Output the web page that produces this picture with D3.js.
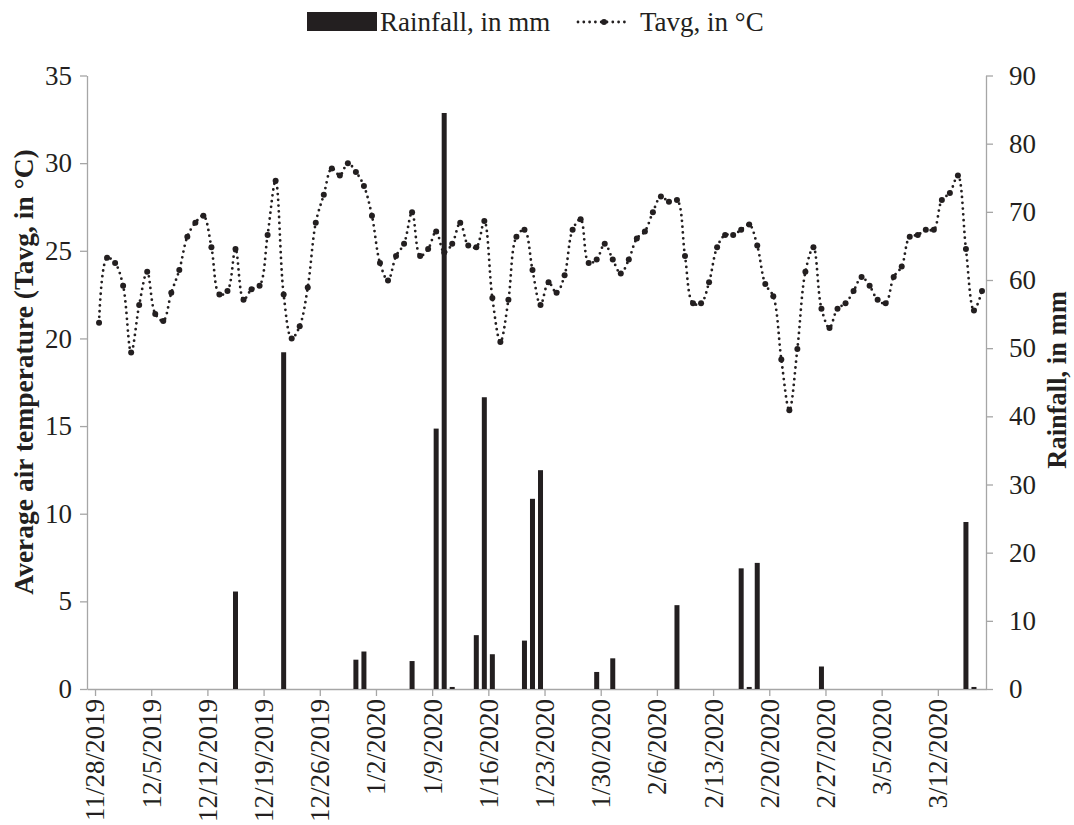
<!DOCTYPE html>
<html>
<head>
<meta charset="utf-8">
<script src="https://cdn.jsdelivr.net/npm/d3@7"></script>
<style>
  html, body { margin: 0; padding: 0; background: #fff; }
  svg { display: block; }
  text { font-family: "Liberation Serif", "Times New Roman", serif; fill: #231f20; }
</style>
</head>
<body>
<svg id="chart" width="1074" height="825"></svg>
<script>
// Daily average air temperature (°C), one value per day starting 11/28/2019
const tempStart = "2019-11-28";
const tavg = [
  20.9, 24.6, 24.3, 23.0, 19.2, 21.9, 23.8, 21.4, 21.0, 22.6,
  23.9, 25.8, 26.6, 27.0, 25.2, 22.5, 22.7, 25.1, 22.2, 22.8,
  23.0, 25.9, 29.0, 22.5, 20.0, 20.7, 22.9, 26.6, 28.2, 29.7,
  29.3, 30.0, 29.5, 28.7, 27.0, 24.3, 23.3, 24.7, 25.4, 27.2,
  24.7, 25.1, 26.1, 24.9, 25.4, 26.6, 25.3, 25.2, 26.7, 22.3,
  19.8, 22.2, 25.8, 26.2, 23.9, 21.9, 23.2, 22.6, 23.6, 26.2,
  26.8, 24.3, 24.5, 25.4, 24.5, 23.7, 24.5, 25.7, 26.1, 27.2,
  28.1, 27.8, 27.9, 24.7, 22.0, 22.0, 23.2, 25.2, 25.9, 25.9,
  26.2, 26.5, 25.3, 23.1, 22.4, 18.8, 15.9, 19.4, 23.8, 25.2,
  21.7, 20.6, 21.7, 22.0, 22.7, 23.5, 23.0, 22.2, 22.0, 23.5,
  24.1, 25.8, 25.9, 26.2, 26.2, 27.9, 28.3, 29.3, 25.1, 21.6,
  22.7
];

// Days with rainfall (mm)
const rainDates = [
  "2019-12-15", "2019-12-21", "2019-12-30", "2019-12-31", "2020-01-06",
  "2020-01-09", "2020-01-10", "2020-01-11", "2020-01-14", "2020-01-15",
  "2020-01-16", "2020-01-20", "2020-01-21", "2020-01-22", "2020-01-29",
  "2020-01-31", "2020-02-08", "2020-02-16", "2020-02-17", "2020-02-18",
  "2020-02-26", "2020-03-15", "2020-03-16"
];
const rainfall = [
  14.3, 49.4, 4.3, 5.5, 4.1,
  38.2, 84.5, 0.3, 7.9, 42.8,
  5.1, 7.1, 27.9, 32.1, 2.5,
  4.5, 12.3, 17.7, 0.3, 18.5,
  3.3, 24.5, 0.3
];

// Axis ticks
const xTickDates = [
  "2019-11-28", "2019-12-05", "2019-12-12", "2019-12-19", "2019-12-26",
  "2020-01-02", "2020-01-09", "2020-01-16", "2020-01-23", "2020-01-30",
  "2020-02-06", "2020-02-13", "2020-02-20", "2020-02-27", "2020-03-05",
  "2020-03-12"
];
const tempTicks = [0, 5, 10, 15, 20, 25, 30, 35];
const rainTicks = [0, 10, 20, 30, 40, 50, 60, 70, 80, 90];

(function draw() {
  const parse = d3.utcParse("%Y-%m-%d");
  const DAY = 864e5;
  const fmt = d3.utcFormat("%-m/%-d/%Y");

  const plotL = 87, plotR = 986, plotT = 75.5, plotB = 689;
  const ink = "#231f20", axisGrey = "#a6a6a6";

  const svg = d3.select("#chart");

  const x = d3.scaleUtc()
    .domain([parse("2019-11-27"), parse("2020-03-18")])
    .range([plotL, plotR]);
  const yT = d3.scaleLinear().domain([0, 35]).range([plotB, plotT]);
  const yR = d3.scaleLinear().domain([0, 90]).range([plotB, plotT]);

  const t0 = parse(tempStart);
  const tempPts = tavg.map((v, i) => ({ date: new Date(+t0 + i * DAY + DAY / 2), v }));
  const rainPts = rainDates.map((d, i) => ({ date: new Date(+parse(d) + DAY / 2), v: rainfall[i] }));

  // Axes
  const fontSize = 27;
  const xAxis = d3.axisBottom(x)
    .tickValues(xTickDates.map(parse))
    .tickFormat(fmt)
    .tickSize(7)
    .tickSizeOuter(0);
  const gx = svg.append("g").attr("transform", `translate(0,${plotB})`).call(xAxis);
  gx.selectAll("text")
    .attr("transform", "rotate(-90)")
    .attr("text-anchor", "end")
    .attr("x", -10)
    .attr("y", 0)
    .attr("dy", "0.33em");

  const gyl = svg.append("g").attr("transform", `translate(${plotL},0)`)
    .call(d3.axisLeft(yT).tickValues(tempTicks).tickSize(7).tickSizeOuter(0).tickPadding(8));
  const gyr = svg.append("g").attr("transform", `translate(${plotR},0)`)
    .call(d3.axisRight(yR).tickValues(rainTicks).tickSize(7).tickSizeOuter(0).tickPadding(16));

  [gx, gyl, gyr].forEach(g => {
    g.select(".domain").attr("stroke", axisGrey).attr("stroke-width", 1.3);
    g.selectAll(".tick line").attr("stroke", axisGrey).attr("stroke-width", 1.3);
    g.selectAll("text")
      .attr("font-family", "Liberation Serif, serif")
      .attr("font-size", fontSize)
      .attr("fill", ink);
  });

  // Temperature: smoothed dotted line with round markers
  const line = d3.line()
    .x(d => x(d.date))
    .y(d => yT(d.v))
    .curve(d3.curveCatmullRom.alpha(0.5));

  svg.append("path")
    .datum(tempPts)
    .attr("d", line)
    .attr("fill", "none")
    .attr("stroke", ink)
    .attr("stroke-width", 2.8)
    .attr("stroke-linecap", "round")
    .attr("stroke-dasharray", "0 5.8");

  svg.append("g").selectAll("circle")
    .data(tempPts)
    .join("circle")
    .attr("cx", d => x(d.date))
    .attr("cy", d => yT(d.v))
    .attr("r", 3)
    .attr("fill", ink);

  // Rainfall bars (right axis)
  const barW = 5;
  svg.append("g").selectAll("rect")
    .data(rainPts)
    .join("rect")
    .attr("x", d => x(d.date) - barW / 2)
    .attr("y", d => yR(d.v))
    .attr("width", barW)
    .attr("height", d => plotB - yR(d.v))
    .attr("fill", ink);

  // Axis titles
  svg.append("text")
    .attr("transform", `translate(33,372) rotate(-90)`)
    .attr("text-anchor", "middle")
    .attr("font-size", 27.5)
    .attr("font-weight", "bold")
    .text("Average air temperature (Tavg, in °C)");

  svg.append("text")
    .attr("transform", `translate(1066,380) rotate(-90)`)
    .attr("text-anchor", "middle")
    .attr("font-size", 26.5)
    .attr("font-weight", "bold")
    .text("Rainfall, in mm");

  // Legend
  const lg = svg.append("g");
  lg.append("rect").attr("x", 307).attr("y", 12).attr("width", 70).attr("height", 19).attr("fill", ink);
  lg.append("text").attr("x", 380).attr("y", 31).attr("font-size", fontSize).text("Rainfall, in mm");
  lg.append("line")
    .attr("x1", 578).attr("x2", 629).attr("y1", 22).attr("y2", 22)
    .attr("stroke", ink).attr("stroke-width", 2.8)
    .attr("stroke-linecap", "round").attr("stroke-dasharray", "0 5.8");
  lg.append("circle").attr("cx", 604).attr("cy", 22).attr("r", 3).attr("fill", ink);
  lg.append("text").attr("x", 640).attr("y", 31).attr("font-size", fontSize).text("Tavg, in °C");
})();
</script>
</body>
</html>
